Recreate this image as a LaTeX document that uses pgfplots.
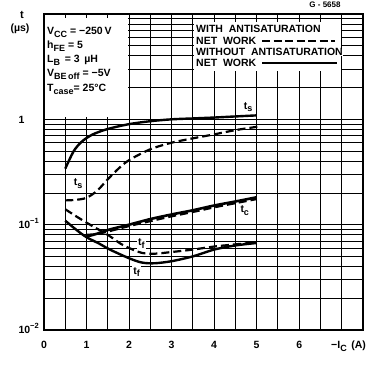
\documentclass[border=0pt]{standalone}
\usepackage{fontspec}
\setmainfont{Liberation Sans}
\usepackage{pgfplots}
\pgfplotsset{compat=1.18}
\newcommand\sub[1]{\raisebox{-0.45ex}{\fontsize{9}{9}\selectfont #1}}
\newcommand\sups[1]{\raisebox{1.0ex}{\fontsize{7.5}{8}\selectfont #1}}
\begin{document}
\begin{tikzpicture}[font=\fontsize{10.5}{12}\selectfont\bfseries]
\useasboundingbox (0pt,0pt) rectangle (375pt,366pt);
\begin{axis}[
  at={(44pt,36pt)}, anchor=south west,
  scale only axis, width=319pt, height=316pt,
  xmin=0, xmax=7.5, ymode=log, ymin=0.01, ymax=10,
  xtick={0,1,...,7}, minor xtick={0.5,1.5,...,7.5},
  xticklabels={0,1,2,3,4,5,6,{}},
  ytick={0.01,0.1,1,10}, yticklabels={10\sups{−2},10\sups{−1},1,{}},
  minor ytick={0.02,0.03,0.04,0.05,0.06,0.07,0.08,0.09,0.2,0.3,0.4,0.5,0.6,0.7,0.8,0.9,2,3,4,5,6,7,8,9},
  grid=both,
  grid style={black, line width=0.9pt},
  minor grid style={black, line width=0.9pt},
  major tick length=0pt, minor tick length=0pt,
  axis line style={line width=1.4pt},
  /pgf/number format/assume math mode=true,
  tick label style={font=\fontsize{10.5}{12}\selectfont\bfseries},
  xticklabel style={anchor=base, yshift=-19pt},
  yticklabel style={anchor=base west, xshift=-29pt, yshift=-4pt},
]
% curve labels
\node[fill=white, inner sep=1pt] at (axis cs:4.8,1.3) {t\sub{s}};
\node[fill=white, inner sep=1pt] at (axis cs:0.8,0.245) {t\sub{s}};
\node[fill=white, inner sep=1pt] at (axis cs:4.72,0.136) {t\sub{c}};
\node[fill=white, inner sep=1pt] at (axis cs:2.29,0.0665) {t\sub{f}};
\node[fill=white, inner sep=1pt] at (axis cs:2.18,0.0355) {t\sub{f}};
% without antisaturation network (solid)
\addplot[line width=2.4pt, smooth, tension=0.5] coordinates {
(0.5,0.34) (0.7,0.5) (0.9,0.62) (1.15,0.72) (1.5,0.81) (2.0,0.9) (2.5,0.96) (3.0,1.0) (3.5,1.02) (4.0,1.04) (4.5,1.065) (5.0,1.09)};
\addplot[line width=2.6pt, smooth, tension=0.5] coordinates {
(1.0,0.080) (1.2,0.081) (1.5,0.089) (2.0,0.100) (2.5,0.113) (3.0,0.125) (3.5,0.137) (4.0,0.152) (4.5,0.166) (5.0,0.182)};
\addplot[line width=2.4pt, smooth, tension=0.5] coordinates {
(0.5,0.109) (0.75,0.09) (1.0,0.076) (1.3,0.066) (1.55,0.058) (2.0,0.048) (2.3,0.0437) (2.6,0.043) (3.0,0.045) (3.5,0.05) (4.0,0.058) (4.5,0.0635) (5.0,0.067)};
% with antisaturation network (dashed)
\addplot[line width=2.2pt, dash pattern=on 8pt off 4pt, smooth, tension=0.5] coordinates {
(0.5,0.17) (0.75,0.172) (1.0,0.18) (1.25,0.21) (1.5,0.27) (1.75,0.34) (2.0,0.41) (2.5,0.52) (3.0,0.6) (3.5,0.66) (4.0,0.72) (4.5,0.79) (5.1,0.86)};
\addplot[line width=2.2pt, dash pattern=on 8pt off 4pt, smooth, tension=0.5] coordinates {
(1.0,0.077) (1.5,0.086) (2.0,0.097) (2.5,0.108) (3.0,0.12) (3.5,0.132) (4.0,0.146) (4.5,0.16) (5.0,0.175)};
\addplot[line width=2.2pt, dash pattern=on 8pt off 4pt, smooth, tension=0.5] coordinates {
(0.5,0.14) (0.8,0.117) (1.1,0.099) (1.5,0.08) (1.8,0.066) (2.0,0.06) (2.3,0.054) (2.6,0.053) (3.0,0.055) (3.5,0.058) (4.0,0.062) (4.5,0.065) (5.0,0.068)};
\end{axis}
% white boxes over the grid
\fill[white] (45pt,249pt) rectangle (128.2pt,348pt);
\fill[white] (193.8pt,295pt) rectangle (341pt,344pt);
% parameters
\begin{scope}[every node/.style={anchor=base west, inner sep=0pt}]
\node at (47pt,331pt) {V\sub{CC} = −250\,V};
\node at (47pt,317pt) {h\sub{FE} = 5};
\node at (47pt,303pt) {L\sub{B} \,= 3 \,µH};
\node at (47pt,289pt) {V\sub{BE\,off} = −5V};
\node at (47pt,274pt) {T\sub{case}= 25°C};
\node at (196pt,333pt) {WITH \ ANTISATURATION};
\node at (196pt,321pt) {NET \ WORK};
\node[fill=white] at (196pt,310pt) {WITHOUT \ ANTISATURATION};
\node at (196pt,299pt) {NET \ WORK};
\end{scope}
\draw[line width=1.8pt, dash pattern=on 8pt off 3.5pt] (262pt,325pt) -- (335pt,325pt);
\draw[line width=1.8pt] (262pt,303pt) -- (337pt,303pt);
% axis titles
\node[font=\fontsize{11}{12}\selectfont\bfseries] at (22pt,351pt) {t};
\node[font=\fontsize{10.5}{12}\selectfont\bfseries] at (20pt,337pt) {(µs)};
\node[anchor=base west, font=\fontsize{10.5}{12}\selectfont\bfseries, inner sep=0pt] at (331pt,17pt) {−I\sub{C} \,(A)};
\node[font=\fontsize{8}{9}\selectfont\bfseries] at (325pt,361pt) {G - 5658};
\end{tikzpicture}
\end{document}
